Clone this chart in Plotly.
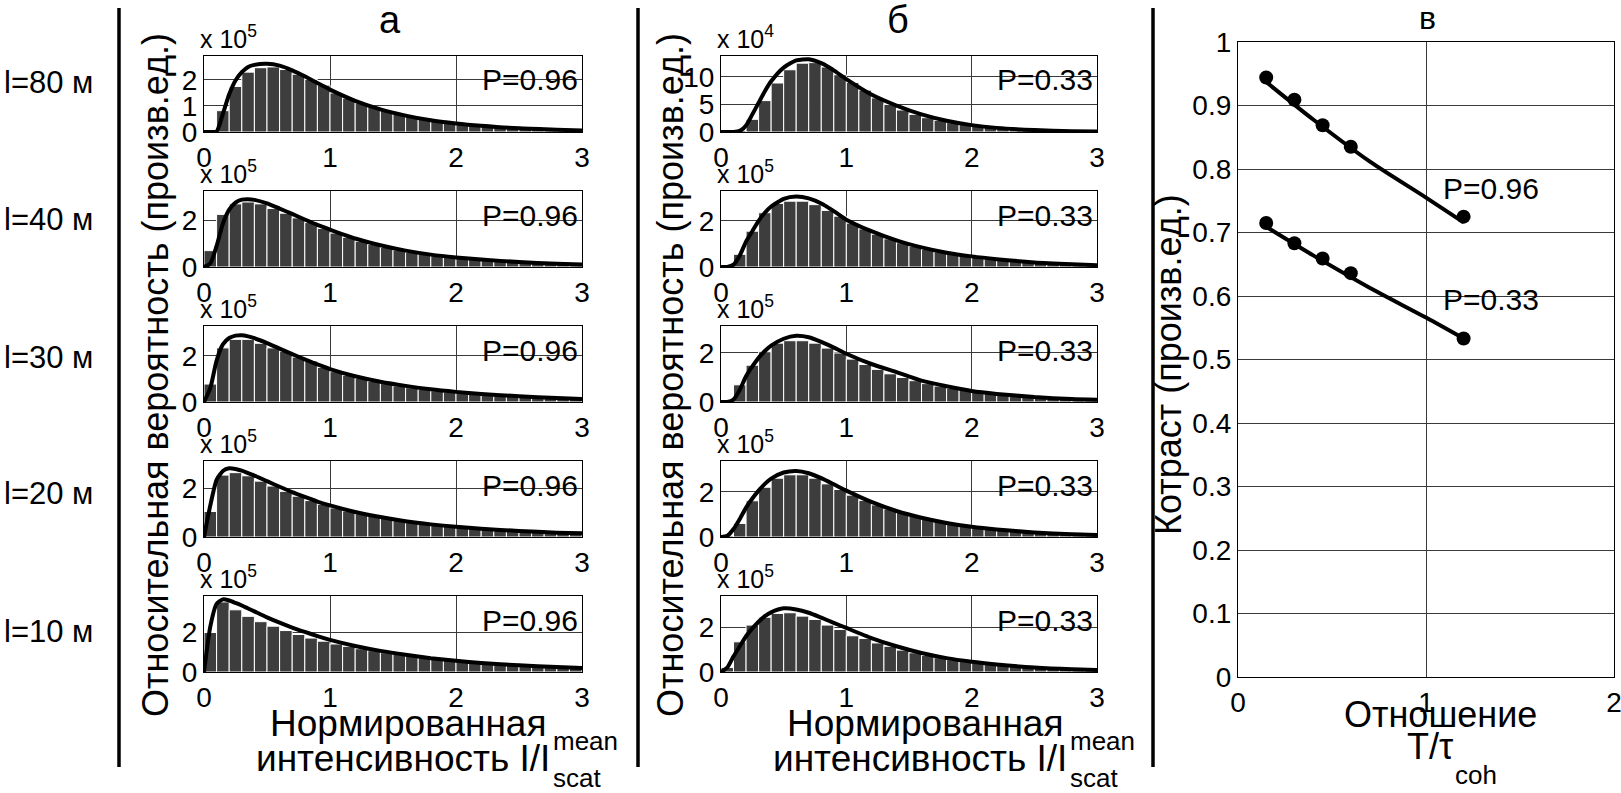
import plotly.graph_objects as go

W, H = 1621, 793
FONT = "Liberation Sans, Arial, sans-serif"

# ---- histogram data: normalised intensity bins (width 0.1) ----
BIN_CENTERS = [0.05, 0.15, 0.25, 0.35, 0.45, 0.55, 0.65, 0.75, 0.85, 0.95,
               1.05, 1.15, 1.25, 1.35, 1.45, 1.55, 1.65, 1.75, 1.85, 1.95,
               2.05, 2.15, 2.25, 2.35, 2.45, 2.55, 2.65, 2.75, 2.85, 2.95]

# P = 0.96 (column "а"), units of 1e5
HIST_A_80 = [0, 0.82, 1.75, 2.3, 2.47, 2.5, 2.4, 2.22, 2.02, 1.8, 1.5, 1.3, 1.12, 0.97, 0.83,
             0.71, 0.6, 0.51, 0.44, 0.37, 0.31, 0.27, 0.22, 0.19, 0.16, 0.13, 0.11, 0.09, 0.08, 0.06]
HIST_A_40 = [0.7, 2.25, 2.7, 2.78, 2.7, 2.5, 2.3, 2.1, 1.9, 1.65, 1.45, 1.27, 1.1, 0.96, 0.84,
             0.73, 0.63, 0.55, 0.48, 0.42, 0.37, 0.32, 0.28, 0.25, 0.22, 0.19, 0.17, 0.15, 0.13, 0.11]
HIST_A_30 = [0.78, 2.35, 2.72, 2.72, 2.55, 2.35, 2.2, 1.95, 1.78, 1.5, 1.32, 1.16, 1.02, 0.9, 0.8,
             0.7, 0.62, 0.55, 0.49, 0.44, 0.39, 0.34, 0.3, 0.27, 0.24, 0.21, 0.19, 0.17, 0.15, 0.13]
HIST_A_20 = [1.05, 2.55, 2.65, 2.52, 2.3, 2.1, 1.88, 1.68, 1.5, 1.35, 1.2, 1.07, 0.96, 0.86, 0.77,
             0.69, 0.62, 0.55, 0.5, 0.45, 0.4, 0.36, 0.33, 0.3, 0.27, 0.24, 0.22, 0.2, 0.18, 0.16]
HIST_A_10 = [2.0, 3.55, 3.15, 2.82, 2.55, 2.32, 2.1, 1.9, 1.72, 1.56, 1.42, 1.3, 1.18, 1.08, 0.98,
             0.9, 0.82, 0.74, 0.68, 0.62, 0.56, 0.51, 0.46, 0.42, 0.38, 0.35, 0.32, 0.29, 0.26, 0.24]

# P = 0.33 (column "б"), first row in 1e4, others in 1e5
HIST_B_80 = [0, 0.3, 2.3, 5.7, 8.9, 11.3, 12.5, 12.6, 11.8, 10.4, 9.0, 7.6, 6.2, 5.0, 4.0,
             3.2, 2.6, 2.1, 1.7, 1.35, 1.05, 0.82, 0.64, 0.5, 0.39, 0.3, 0.23, 0.18, 0.14, 0.11]
HIST_B_40 = [0, 0.55, 1.55, 2.35, 2.75, 2.85, 2.85, 2.7, 2.45, 2.2, 1.9, 1.65, 1.42, 1.22, 1.05,
             0.9, 0.77, 0.66, 0.56, 0.48, 0.41, 0.35, 0.3, 0.26, 0.22, 0.19, 0.16, 0.14, 0.12, 0.1]
HIST_B_30 = [0, 0.7, 1.5, 2.05, 2.4, 2.5, 2.5, 2.4, 2.2, 2.0, 1.75, 1.53, 1.33, 1.15, 1.0,
             0.87, 0.75, 0.65, 0.56, 0.48, 0.42, 0.36, 0.31, 0.27, 0.23, 0.2, 0.17, 0.15, 0.13, 0.11]
HIST_B_20 = [0.05, 0.6, 1.6, 2.2, 2.6, 2.75, 2.75, 2.6, 2.35, 2.1, 1.85, 1.62, 1.42, 1.24, 1.08,
             0.94, 0.81, 0.7, 0.6, 0.52, 0.45, 0.39, 0.34, 0.29, 0.25, 0.22, 0.19, 0.16, 0.14, 0.12]
HIST_B_10 = [0.2, 1.35, 2.1, 2.45, 2.62, 2.65, 2.5, 2.35, 2.1, 1.9, 1.62, 1.5, 1.3, 1.15, 0.98,
             0.86, 0.74, 0.64, 0.55, 0.47, 0.4, 0.34, 0.29, 0.25, 0.21, 0.18, 0.15, 0.13, 0.11, 0.09]

# ---- fitted distributions ----
CURVE_X = [0, 0.05, 0.1, 0.15, 0.2, 0.25, 0.3, 0.35, 0.4, 0.5, 0.6, 0.7, 0.8, 0.9,
           1.0, 1.2, 1.4, 1.6, 1.8, 2.0, 2.2, 2.5, 2.8, 3.0]
FIT_A_80 = [0, 0, 0.02, 0.7, 1.45, 1.98, 2.3, 2.5, 2.58, 2.62, 2.55, 2.37, 2.14, 1.88,
            1.63, 1.2, 0.87, 0.63, 0.45, 0.33, 0.24, 0.14, 0.09, 0.06]
FIT_A_40 = [0, 0.15, 0.9, 1.85, 2.45, 2.75, 2.88, 2.9, 2.87, 2.72, 2.5, 2.27, 2.03, 1.8,
            1.6, 1.22, 0.93, 0.7, 0.53, 0.41, 0.32, 0.21, 0.14, 0.11]
FIT_A_30 = [0, 0.6, 1.8, 2.5, 2.78, 2.88, 2.9, 2.85, 2.77, 2.56, 2.32, 2.08, 1.85, 1.63,
            1.43, 1.12, 0.88, 0.7, 0.55, 0.44, 0.35, 0.25, 0.17, 0.13]
FIT_A_20 = [0, 1.3, 2.35, 2.72, 2.83, 2.8, 2.73, 2.63, 2.53, 2.3, 2.07, 1.85, 1.65, 1.46,
            1.3, 1.03, 0.82, 0.65, 0.52, 0.42, 0.34, 0.25, 0.18, 0.15]
FIT_A_10 = [0, 2.3, 3.45, 3.68, 3.62, 3.5, 3.37, 3.22, 3.07, 2.77, 2.5, 2.25, 2.03, 1.82,
            1.63, 1.32, 1.07, 0.87, 0.7, 0.57, 0.46, 0.34, 0.25, 0.2]
FIT_B_80 = [0, 0, 0, 0.2, 1.2, 3.2, 5.3, 7.4, 9.2, 11.7, 13.0, 13.2, 12.5, 11.2,
            9.6, 6.8, 4.8, 3.2, 2.05, 1.25, 0.75, 0.35, 0.15, 0.1]
FIT_B_40 = [0, 0, 0.1, 0.5, 1.1, 1.55, 2.0, 2.35, 2.62, 2.95, 3.05, 2.97, 2.75, 2.42,
            2.05, 1.55, 1.15, 0.85, 0.62, 0.46, 0.34, 0.2, 0.12, 0.08]
FIT_B_30 = [0, 0, 0.1, 0.5, 1.05, 1.45, 1.8, 2.08, 2.3, 2.58, 2.7, 2.64, 2.45, 2.22,
            1.97, 1.55, 1.22, 0.87, 0.64, 0.45, 0.33, 0.2, 0.12, 0.09]
FIT_B_20 = [0, 0.05, 0.35, 0.8, 1.3, 1.7, 2.05, 2.35, 2.58, 2.85, 2.92, 2.82, 2.6, 2.33,
            2.05, 1.55, 1.15, 0.85, 0.62, 0.45, 0.33, 0.2, 0.12, 0.09]
FIT_B_10 = [0, 0.2, 0.7, 1.15, 1.6, 1.95, 2.25, 2.5, 2.67, 2.85, 2.8, 2.65, 2.43, 2.2,
            1.97, 1.52, 1.15, 0.85, 0.62, 0.46, 0.34, 0.2, 0.12, 0.09]

DISTANCES = ["l=80 м", "l=40 м", "l=30 м", "l=20 м", "l=10 м"]
Y_LIMITS_A = [2.92, 3.25, 3.3, 3.13, 3.85]
Y_LIMITS_B = [13.8, 3.29, 3.1, 3.36, 3.4]
Y_TICKS_A = [[0, 1, 2], [0, 2], [0, 2], [0, 2], [0, 2]]
Y_TICKS_B = [[0, 5, 10], [0, 2], [0, 2], [0, 2], [0, 2]]
EXP_A = [5, 5, 5, 5, 5]
EXP_B = [4, 5, 5, 5, 5]

# ---- speckle contrast vs exposure ratio ----
T_RATIO = [0.15, 0.3, 0.45, 0.6, 1.2]
CONTRAST_096 = [0.944, 0.909, 0.869, 0.835, 0.725]
CONTRAST_033 = [0.715, 0.683, 0.659, 0.636, 0.533]
FIT_T = [0.15, 0.4, 0.7, 1.0, 1.2]
FIT_C_096 = [0.937, 0.878, 0.812, 0.755, 0.716]
FIT_C_033 = [0.709, 0.664, 0.613, 0.566, 0.533]


def fx(p):
    return p / W


def fy(p):
    return 1 - p / H


COLS = {"a": (204, 582), "b": (721, 1097)}
ROW_TOP = [56, 191, 326, 461, 596]
ROW_H = 76

fig = go.Figure()
layout = {}
annotations = []

axis_common = dict(showgrid=True, gridcolor="#3a3a3a", gridwidth=1, showline=True,
                   linecolor="black", linewidth=1.2, mirror=True, zeroline=False,
                   automargin=False, ticks="", ticklabeloverflow="allow",
                   tickfont=dict(family=FONT, size=28, color="black"), fixedrange=True)

hists = {"a": [HIST_A_80, HIST_A_40, HIST_A_30, HIST_A_20, HIST_A_10],
         "b": [HIST_B_80, HIST_B_40, HIST_B_30, HIST_B_20, HIST_B_10]}
fits = {"a": [FIT_A_80, FIT_A_40, FIT_A_30, FIT_A_20, FIT_A_10],
        "b": [FIT_B_80, FIT_B_40, FIT_B_30, FIT_B_20, FIT_B_10]}
ylims = {"a": Y_LIMITS_A, "b": Y_LIMITS_B}
yticks = {"a": Y_TICKS_A, "b": Y_TICKS_B}
exps = {"a": EXP_A, "b": EXP_B}
plabel = {"a": "P=0.96", "b": "P=0.33"}

n = 0
for col in ["a", "b"]:
    x0, x1 = COLS[col]
    for r in range(5):
        n += 1
        sfx = "" if n == 1 else str(n)
        top = ROW_TOP[r]
        layout["xaxis" + sfx] = dict(axis_common, domain=[fx(x0), fx(x1)], range=[0, 3],
                                     tickvals=[0, 1, 2, 3], anchor="y" + sfx)
        layout["yaxis" + sfx] = dict(axis_common, domain=[fy(top + ROW_H), fy(top)],
                                     range=[0, ylims[col][r]], tickvals=yticks[col][r],
                                     anchor="x" + sfx)
        fig.add_trace(go.Bar(x=BIN_CENTERS, y=hists[col][r], width=0.1,
                             marker=dict(color="#3d3d3d", line=dict(color="white", width=1)),
                             xaxis="x" + sfx, yaxis="y" + sfx, showlegend=False))
        fig.add_trace(go.Scatter(x=CURVE_X, y=fits[col][r], mode="lines",
                                 line=dict(color="black", width=4, shape="spline", smoothing=0.6),
                                 xaxis="x" + sfx, yaxis="y" + sfx, showlegend=False))
        annotations.append(dict(xref="paper", yref="paper", x=fx(x0 - 6), y=fy(top - 1),
                                xanchor="left", yanchor="bottom", showarrow=False,
                                text="x 10<sup>%d</sup>" % exps[col][r],
                                font=dict(family=FONT, size=25, color="black")))
        annotations.append(dict(xref="paper", yref="paper", x=fx(x1 - 2), y=fy(top + 24),
                                xanchor="right", yanchor="middle", showarrow=False,
                                text=plabel[col], font=dict(family=FONT, size=30, color="black")))

# contrast panel
layout["xaxis11"] = dict(axis_common, domain=[fx(1238), fx(1614)], range=[0, 2],
                         tickvals=[0, 1, 2], anchor="y11")
layout["yaxis11"] = dict(axis_common, domain=[fy(677), fy(42)], range=[0, 1],
                         tickvals=[0, 0.1, 0.2, 0.3, 0.4, 0.5, 0.6, 0.7, 0.8, 0.9, 1],
                         ticktext=["0", "0.1", "0.2", "0.3", "0.4", "0.5", "0.6", "0.7", "0.8", "0.9", "1"],
                         anchor="x11")
for fit_vals, pts in [(FIT_C_096, CONTRAST_096), (FIT_C_033, CONTRAST_033)]:
    fig.add_trace(go.Scatter(x=FIT_T, y=fit_vals, mode="lines",
                             line=dict(color="black", width=4, shape="spline", smoothing=0.8),
                             xaxis="x11", yaxis="y11", showlegend=False))
    fig.add_trace(go.Scatter(x=T_RATIO, y=pts, mode="markers",
                             marker=dict(color="black", size=14),
                             xaxis="x11", yaxis="y11", showlegend=False))
annotations.append(dict(xref="x11", yref="y11", x=1.08, y=0.77, xanchor="left", yanchor="middle",
                        showarrow=False, text="P=0.96", font=dict(family=FONT, size=30, color="black")))
annotations.append(dict(xref="x11", yref="y11", x=1.08, y=0.594, xanchor="left", yanchor="middle",
                        showarrow=False, text="P=0.33", font=dict(family=FONT, size=30, color="black")))


def text(x, y, s, size, xanchor="center", yanchor="middle", angle=0):
    annotations.append(dict(xref="paper", yref="paper", x=fx(x), y=fy(y), xanchor=xanchor,
                            yanchor=yanchor, showarrow=False, text=s, textangle=angle,
                            font=dict(family=FONT, size=size, color="black")))


# row labels
for lbl, yc in zip(DISTANCES, [83, 219, 357, 493, 631]):
    text(2, yc, lbl, 31, xanchor="left")

# panel titles
text(390, 20, "а", 38)
text(898, 20, "б", 38)
text(1427, 18, "в", 32)

# y titles
YLAB = "Относительная вероятность (произв.ед.)"
text(155, 375, YLAB, 36, angle=-90)
text(670, 375, YLAB, 36, angle=-90)
text(1168, 365, "Котраст (произв.ед.)", 36, angle=-90)

# x titles of histogram columns
for dx in (0, 517):
    text(408 + dx, 723, "Нормированная", 37)
    text(552 + dx, 758, "интенсивность I/I", 37, xanchor="right")
    text(551 + dx, 741, "mean", 26, xanchor="left")
    text(551 + dx, 778, "scat", 26, xanchor="left")

# x title of contrast panel
text(1440, 714, "Отношение", 36)
text(1455, 746, "T/τ", 36, xanchor="right")
text(1453, 775, "coh", 26, xanchor="left")

shapes = []
for xs in (119, 638, 1153):
    shapes.append(dict(type="line", xref="paper", yref="paper", x0=fx(xs), x1=fx(xs),
                       y0=fy(8), y1=fy(767), line=dict(color="black", width=3.5)))

fig.update_layout(width=W, height=H, margin=dict(l=0, r=0, t=0, b=0, autoexpand=False),
                  paper_bgcolor="white", plot_bgcolor="white", barmode="overlay",
                  annotations=annotations, shapes=shapes, showlegend=False,
                  font=dict(family=FONT, color="black"), **layout)

fig.write_html("out.html", config={"displayModeBar": False})
